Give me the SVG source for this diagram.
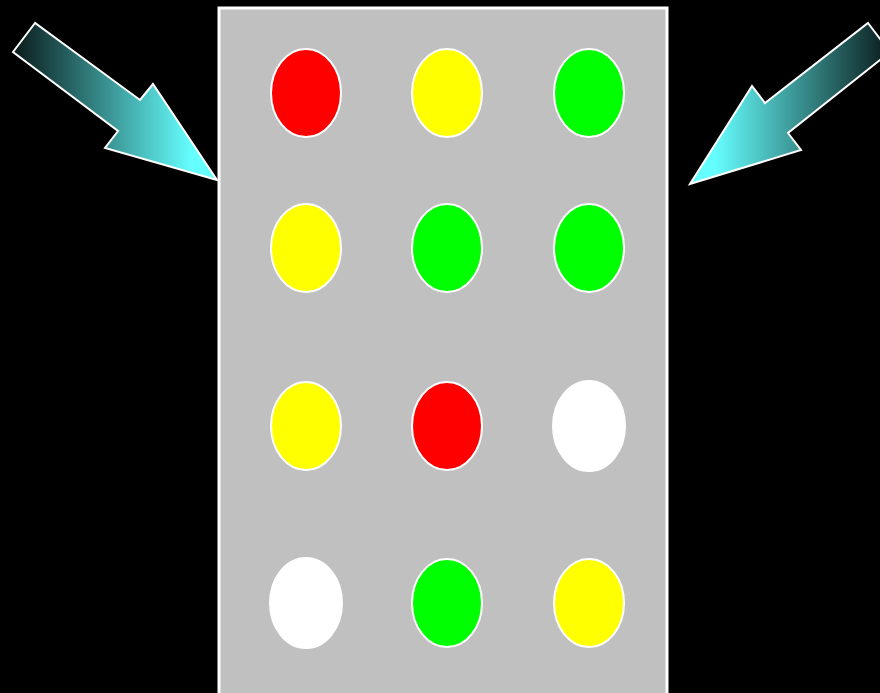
<svg xmlns="http://www.w3.org/2000/svg" width="880" height="693" viewBox="0 0 880 693">
<defs>
<linearGradient id="gl" gradientUnits="userSpaceOnUse" x1="13" y1="0" x2="217" y2="0">
<stop offset="0" stop-color="#0a1a1a"/>
<stop offset="0.88" stop-color="#66ffff"/>
<stop offset="1" stop-color="#66ffff"/>
</linearGradient>
<linearGradient id="gr" gradientUnits="userSpaceOnUse" x1="890" y1="0" x2="690" y2="0">
<stop offset="0" stop-color="#0a1a1a"/>
<stop offset="0.88" stop-color="#66ffff"/>
<stop offset="1" stop-color="#66ffff"/>
</linearGradient>
<style>
.arrow{stroke:#fff;stroke-width:2;stroke-linejoin:miter}
.dot{stroke:#fff;stroke-width:2}
.red{fill:#ff0000}.yel{fill:#ffff00}.grn{fill:#00ff00}.wht{fill:#fff}
</style>
</defs>
<rect width="880" height="693" fill="#000"/>
<g id="panel"><rect x="219" y="8" width="448" height="700" fill="#c0c0c0" stroke="#fff" stroke-width="3"/></g>
<g id="connectors">
<polygon id="arrow-left" class="arrow" fill="url(#gl)" points="35,23 13,52 118,131 105,148 217,180 153,84 140,100"/>
<polygon id="arrow-right" class="arrow" fill="url(#gr)" points="868,23 890,52 788,133 801,150 690,184 752,86 765,103"/>
</g>
<g id="n1"><ellipse class="dot red" cx="306" cy="93" rx="35" ry="44"/></g>
<g id="n2"><ellipse class="dot yel" cx="447" cy="93" rx="35" ry="44"/></g>
<g id="n3"><ellipse class="dot grn" cx="589" cy="93" rx="35" ry="44"/></g>
<g id="n4"><ellipse class="dot yel" cx="306" cy="248" rx="35" ry="44"/></g>
<g id="n5"><ellipse class="dot grn" cx="447" cy="248" rx="35" ry="44"/></g>
<g id="n6"><ellipse class="dot grn" cx="589" cy="248" rx="35" ry="44"/></g>
<g id="n7"><ellipse class="dot yel" cx="306" cy="426" rx="35" ry="44"/></g>
<g id="n8"><ellipse class="dot red" cx="447" cy="426" rx="35" ry="44"/></g>
<g id="n9"><ellipse class="dot wht" cx="589" cy="426" rx="36" ry="45"/></g>
<g id="n10"><ellipse class="dot wht" cx="306" cy="603" rx="36" ry="45"/></g>
<g id="n11"><ellipse class="dot grn" cx="447" cy="603" rx="35" ry="44"/></g>
<g id="n12"><ellipse class="dot yel" cx="589" cy="603" rx="35" ry="44"/></g>
</svg>
